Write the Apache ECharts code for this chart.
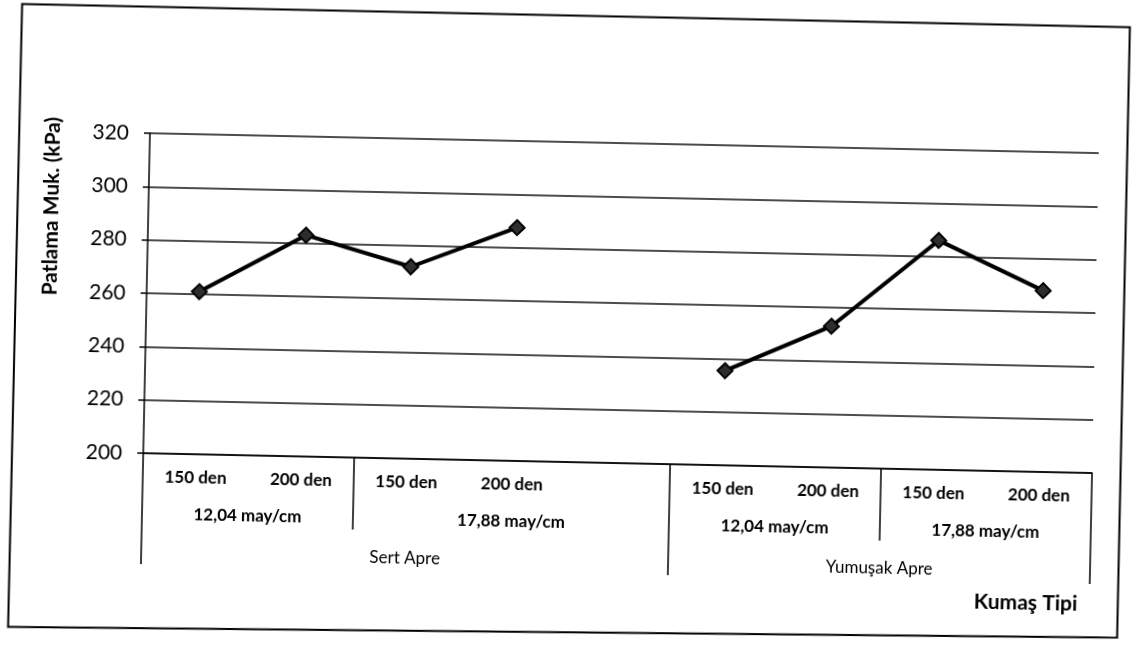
<!DOCTYPE html>
<html>
<head>
<meta charset="utf-8">
<script src="https://cdn.jsdelivr.net/npm/echarts@6/dist/echarts.min.js"></script>
<style>
  html, body { margin: 0; padding: 0; background: #fff; overflow: hidden; }
  #chart { width: 1133px; height: 653px; transform: rotate(1.2deg); transform-origin: 50% 50%; }
</style>
</head>
<body>
<div id="chart"></div>
<script>
// Yarn count per column (first label row); the blank column separates the two finishes
const yarnCounts = ['150 den', '200 den', '150 den', '200 den', '', '150 den', '200 den', '150 den', '200 den'];
// Weft density groups (second label row) and how many columns each covers
const densityGroups = ['12,04 may/cm', '17,88 may/cm', '12,04 may/cm', '17,88 may/cm'];
const densitySpans = [2, 3, 2, 2];
// Finish groups (third label row)
const finishGroups = ['Sert Apre', 'Yumuşak Apre'];
const finishSpans = [5, 4];
// Bursting strength, kPa
const burstStrength = [261, 283, 272, 287.5, null, 235.5, 253, 286, 268];
// Value axis ticks
const yTicks = [200, 220, 240, 260, 280, 300, 320];

const FONT = 'Lato, "Open Sans", sans-serif';

function groupCenters(spans) {
  let s = 0;
  return spans.map(n => { const c = s + n / 2; s += n; return c; });
}
function groupEdges(spans) {
  let s = 0;
  const e = [0];
  spans.forEach(n => { s += n; e.push(s); });
  return e;
}
function labelAt(centers, names, v) {
  for (let i = 0; i < centers.length; i++) {
    if (Math.abs(centers[i] - v) < 1e-6) return names[i];
  }
  return '';
}

const densityCenters = groupCenters(densitySpans);
const finishCenters = groupCenters(finishSpans);
const finishEdges = groupEdges(finishSpans);
const densityEdges = groupEdges(densitySpans).filter(e => finishEdges.indexOf(e) < 0);

const nCat = yarnCounts.length;
const yStep = yTicks[1] - yTicks[0];

const chart = echarts.init(document.getElementById('chart'), null, { renderer: 'canvas' });

const groupAxis = (centers, names, margin, weight) => ({
  type: 'value',
  position: 'bottom',
  min: 0,
  max: nCat,
  interval: 0.5,
  axisLine: { show: false },
  axisTick: { show: false },
  splitLine: { show: false },
  axisLabel: {
    margin: margin,
    color: '#000',
    fontFamily: FONT,
    fontSize: 17,
    fontWeight: weight,
    formatter: v => labelAt(centers, names, v)
  }
});

chart.setOption({
  backgroundColor: '#fff',
  animation: false,
  grid: { left: 146, right: 38, top: 142, bottom: 191, outerBoundsMode: 'none', containLabel: false },
  xAxis: [
    {
      type: 'category',
      position: 'bottom',
      data: yarnCounts,
      boundaryGap: true,
      axisLine: { show: true, onZero: false, lineStyle: { color: '#000', width: 1.5 } },
      axisTick: {
        show: true,
        length: 111,
        interval: idx => finishEdges.indexOf(idx) >= 0,
        lineStyle: { color: '#000', width: 1.5 }
      },
      axisLabel: {
        interval: 0,
        margin: 15,
        color: '#000',
        fontFamily: FONT,
        fontSize: 17,
        fontWeight: 'bold'
      },
      splitLine: { show: false }
    },
    {
      type: 'category',
      position: 'bottom',
      data: yarnCounts,
      boundaryGap: true,
      axisLine: { show: false, onZero: false },
      axisTick: {
        show: true,
        length: 72,
        interval: idx => densityEdges.indexOf(idx) >= 0,
        lineStyle: { color: '#000', width: 1.5 }
      },
      axisLabel: { show: false },
      splitLine: { show: false }
    },
    groupAxis(densityCenters, densityGroups, 52, 'bold'),
    groupAxis(finishCenters, finishGroups, 91, 'normal')
  ],
  yAxis: {
    type: 'value',
    min: yTicks[0],
    max: yTicks[yTicks.length - 1],
    interval: yStep,
    axisLine: { show: true, lineStyle: { color: '#000', width: 1.5 } },
    axisTick: { show: true, length: 6, lineStyle: { color: '#000', width: 1.5 } },
    axisLabel: { margin: 21, color: '#000', fontFamily: FONT, fontSize: 21 },
    splitLine: { show: true, lineStyle: { color: '#111', width: 1.5 } }
  },
  series: [{
    type: 'line',
    xAxisIndex: 0,
    data: burstStrength,
    connectNulls: false,
    symbol: 'diamond',
    symbolSize: 15,
    lineStyle: { color: '#000', width: 4 },
    itemStyle: { color: '#2e2e2e', borderColor: '#000', borderWidth: 2 },
    z: 5
  }],
  graphic: [
    {
      // chart frame
      type: 'polygon',
      shape: { points: [[15.5, 15.5], [1123.5, 15.5], [1123.5, 626], [14.5, 638.5]] },
      style: { fill: null, stroke: '#000', lineWidth: 2 },
      z: -1
    },
    {
      type: 'text',
      x: 49, y: 217,
      rotation: Math.PI / 2,
      style: {
        text: 'Patlama Muk. (kPa)',
        fill: '#000',
        fontFamily: FONT,
        fontSize: 21,
        fontWeight: 'bold',
        align: 'center',
        verticalAlign: 'middle'
      }
    },
    {
      type: 'text',
      x: 1083, y: 593,
      style: {
        text: 'Kumaş Tipi',
        fill: '#000',
        fontFamily: FONT,
        fontSize: 21,
        fontWeight: 'bold',
        align: 'right',
        verticalAlign: 'middle'
      }
    }
  ]
});
</script>
</body>
</html>
